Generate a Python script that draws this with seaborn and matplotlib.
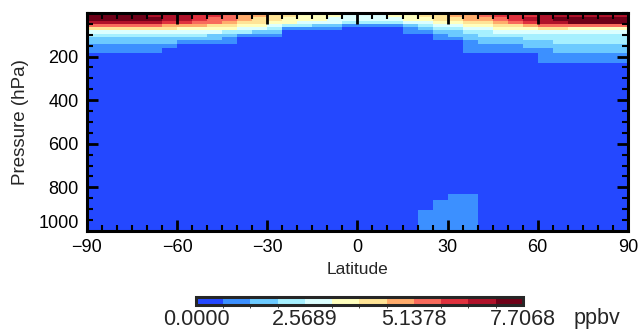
import numpy as np
import matplotlib
matplotlib.use("Agg")
import matplotlib.pyplot as plt
import matplotlib.transforms as mtransforms
from matplotlib.colors import ListedColormap, BoundaryNorm
from matplotlib.ticker import MultipleLocator
import seaborn as sns

sns.set_style("ticks")
plt.rcParams['font.family'] = ['Liberation Sans', 'DejaVu Sans']

## colour scale: 12 equal steps between 0 and the field maximum
vmax = 7.7068
level_colors = ["#2448FF", "#3C90FF", "#6CCAFF", "#A6F0FF", "#DCFFFF", "#FFFFBE",
                "#FFE496", "#FFAC6C", "#F86B5C", "#E0323E", "#B0122A", "#6E0018"]
cbar_labels = ["0.0000", "2.5689", "5.1378", "7.7068"]

## grid cell edges
lat_edges = np.arange(-90, 91, 5)
p_edges = [0, 8, 20, 35, 50, 65, 80, 95, 110, 125, 140, 160, 185, 205, 230,
           830, 860, 905, 1000]

## colour level (hex digit) of each cell, one string per latitude column,
## read top (0 hPa) to bottom (1000 hPa)
columns = [
    "1bba86432211000000",  # -87.5
    "1bba86432211000000",
    "1bba86432211000000",
    "1bba86432211000000",
    "1aba86432211000000",
    "1aa976432210000000",  # -62.5
    "1aa975432100000000",
    "199875432100000000",
    "198865422100000000",
    "188765321100000000",
    "177654310000000000",  # -37.5
    "176654210000000000",
    "166543210000000000",
    "165531000000000000",
    "155431000000000000",
    "155421000000000000",  # -12.5
    "154421000000000000",
    "244310000000000000",
    "244310000000000000",
    "244310000000000000",
    "254310000000000000",  # 12.5
    "255421100000000000",
    "265432100000000001",
    "266543211000000011",
    "276543221000000111",
    "277654322111000111",  # 37.5
    "287654332211000000",
    "298765432211000000",
    "299865432211000000",
    "19a975433221000000",
    "1aaa86433221110000",  # 62.5
    "1aba86433322110000",
    "1abb85433322110000",
    "1abb85433322110000",
    "1abb85433322110000",
    "1abb85433322110000",  # 87.5
]

levels = np.array([[int(c, 16) for c in col] for col in columns]).T
values = (levels + 0.5) * vmax / len(level_colors)

cmap = ListedColormap(level_colors)
bounds = np.linspace(0, vmax, len(level_colors) + 1)
norm = BoundaryNorm(bounds, cmap.N)

fig = plt.figure(figsize=(6.42, 3.33), dpi=100)
ax = fig.add_axes([0.1355, 0.3063, 0.8425, 0.6547])
mesh = ax.pcolormesh(lat_edges, p_edges, values, cmap=cmap, norm=norm)
ax.set_axisbelow(False)

ax.set_xlim(-90, 90)
ax.set_ylim(1000, 0)
ax.set_xticks([-90, -60, -30, 0, 30, 60, 90])
ax.set_yticks([200, 400, 600, 800, 1000])
ax.xaxis.set_minor_locator(MultipleLocator(5))
ax.yaxis.set_minor_locator(MultipleLocator(50))
ax.tick_params(which='both', direction='in', top=True, right=True,
               width=2, colors='black', labelsize=13)
ax.tick_params(which='major', length=8, pad=6)
ax.tick_params(which='minor', length=4, width=1.5)
for s in ax.spines.values():
    s.set_linewidth(2.2)
    s.set_color('black')
ax.set_xlabel("Latitude", fontsize=12.5, labelpad=4)
ax.set_ylabel("Pressure (hPa)", fontsize=13.5, labelpad=7)

## the bottom pressure label sits a little above its tick, as in the original
lab = ax.get_yticklabels()[-1]
lab.set_transform(lab.get_transform() +
                  mtransforms.ScaledTranslation(0, 7 / 72, fig.dpi_scale_trans))

## colour bar below the plot
cax = fig.add_axes([0.3053, 0.084, 0.5093, 0.024])
cb = fig.colorbar(mesh, cax=cax, orientation='horizontal',
                  ticks=[0, vmax / 3, 2 * vmax / 3, vmax])
cb.ax.set_xticklabels(cbar_labels)
cb.ax.tick_params(length=0, labelsize=15.5, pad=3)
cb.outline.set_linewidth(2.2)
fig.text(0.93, 0.045, "ppbv", fontsize=15.5, ha='center', va='center')

fig.savefig("out.png", dpi=100)
